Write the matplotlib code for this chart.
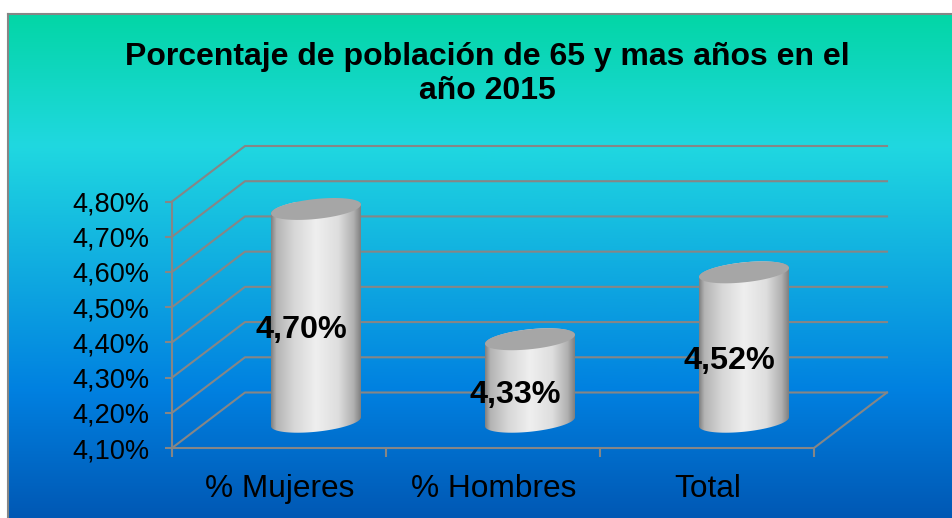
#recreates the 3D cylinder chart of population aged 65+ in 2015
import matplotlib
matplotlib.use('Agg')
import matplotlib.pyplot as plt
from matplotlib.colors import LinearSegmentedColormap
from matplotlib.patches import PathPatch
from matplotlib.path import Path
import numpy as np

plt.rcParams['font.family'] = ['Liberation Sans', 'DejaVu Sans']

title = 'Porcentaje de población de 65 y mas años en el\naño 2015'
categories = ['% Mujeres', '% Hombres', 'Total']
values = [4.70, 4.33, 4.52]
value_labels = ['4,70%', '4,33%', '4,52%']
y_ticks = [4.1, 4.2, 4.3, 4.4, 4.5, 4.6, 4.7, 4.8]
y_tick_labels = ['4,10%', '4,20%', '4,30%', '4,40%', '4,50%', '4,60%', '4,70%', '4,80%']

W, H = 953, 518
GREY = '#868686'

fig = plt.figure(figsize=(W/100, H/100), dpi=100, facecolor='white')

#background gradient, only top and left border are visible in the original
bg = fig.add_axes([8/W, 0, (W-8)/W, (H-14)/H])
bg_cmap = LinearSegmentedColormap.from_list('bg', [(0, '#03D6A6'), (0.26, '#20D8E0'), (0.75, '#0080E0'), (1, '#0058B4')])
bg.imshow(np.linspace(0, 1, 256).reshape(-1, 1), aspect='auto', cmap=bg_cmap, extent=(0, 1, 0, 1))
bg.set_xlim(0, 1)
bg.set_ylim(0, 1)
bg.set_xticks([])
bg.set_yticks([])
for name, s in bg.spines.items():
    s.set_color(GREY)
    s.set_linewidth(1.5)
    s.set_visible(name in ('top', 'left'))

#main axes is the front plane of the 3D box
left, right, bottom, top = 172, 814, 448, 201.5
ax = fig.add_axes([left/W, 1-bottom/H, (right-left)/W, (bottom-top)/H])
ax.patch.set_alpha(0)
ax.set_xlim(0, 3)
ax.set_ylim(4.1, 4.8)
for s in ax.spines.values():
    s.set_visible(False)

#depth of the box in data units
dx = 73/(right-left)*3
dy = 55.5/(bottom-top)*0.7

for v in y_ticks:
    ax.plot([0, dx, 3+dx], [v, v+dy, v+dy], color=GREY, lw=1.5, clip_on=False, zorder=1)
ax.plot([0, 3, 3+dx], [4.1, 4.1, 4.1+dy], color=GREY, lw=1.5, clip_on=False, zorder=1)
ax.plot([0, 0], [4.1, 4.8], color=GREY, lw=1.5, clip_on=False, zorder=1)

ax.set_yticks(y_ticks)
ax.set_yticklabels(y_tick_labels, fontsize=19.5)
ax.set_xticks([0, 1, 2, 3])
ax.set_xticklabels([])
ax.tick_params(axis='y', color=GREY, width=1.5, length=5, pad=11.5)
ax.tick_params(axis='x', color=GREY, width=1.5, length=6.5)
for i, c in enumerate(categories):
    ax.annotate(c, (i+0.5, 4.1), xytext=(1, -41), textcoords='offset pixels',
                ha='center', va='center', fontsize=22.8)

#cylinders, ellipse half sizes in data units
half_w = 45/(right-left)*3
half_h = 10/(bottom-top)*0.7
tilt = 4.5/(bottom-top)*0.7
cyl_cmap = LinearSegmentedColormap.from_list('cyl', [(0, '#808080'), (0.06, '#b4b4b4'), (0.25, '#d6d6d6'), (0.5, '#efefef'), (0.75, '#dedede'), (0.92, '#b0b0b0'), (1, '#808080')])
t = np.linspace(0, np.pi, 60)

for i, v in enumerate(values):
    cx = i+0.5+dx/2+0.5/(right-left)*3
    base = 4.1+dy/2-1.5/(bottom-top)*0.7
    topv = v+dy/2
    #outline: bottom half of the base ellipse, then top edge across the lid
    xs = cx-half_w*np.cos(t)
    ybase = base-half_h*np.sin(t)+tilt*(xs-cx)/half_w
    ytop = topv+half_h*np.sin(t)+tilt*(xs-cx)/half_w
    verts = np.r_[np.c_[xs, ybase], np.c_[xs[::-1], ytop[::-1]], [[xs[0], ybase[0]]]]
    clip = PathPatch(Path(verts), transform=ax.transData, fc='none', ec='none')
    ax.add_patch(clip)
    im = ax.imshow(np.linspace(0, 1, 256).reshape(1, -1), aspect='auto', cmap=cyl_cmap, zorder=3,
                   extent=(cx-half_w, cx+half_w, base-3*half_h, topv+3*half_h))
    im.set_clip_path(clip)
    lid = np.r_[np.c_[xs, topv-half_h*np.sin(t)+tilt*(xs-cx)/half_w], np.c_[xs[::-1], ytop[::-1]]]
    ax.fill(lid[:, 0], lid[:, 1], color='#a6a6a6', lw=0, zorder=4, clip_on=False)
    #labels sit left of the cylinder centre
    ax.text(i+0.5+dx*0.3, (4.1+v)/2+dy/4-0.003, value_labels[i], ha='center', va='center', fontsize=23.3,
            fontweight='bold', zorder=5, clip_on=False)

ax.set_xlim(0, 3)
ax.set_ylim(4.1, 4.8)

fig.text(487/W, 1-74/H, title, ha='center', va='center', fontsize=23, fontweight='bold', linespacing=1.15)

fig.savefig('out.png', dpi=100)
